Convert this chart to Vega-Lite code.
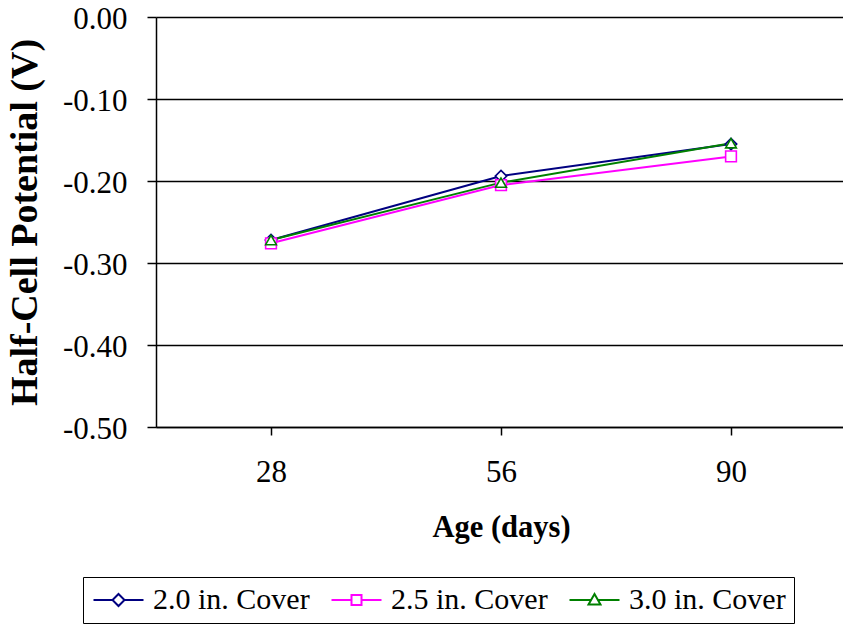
{
  "$schema": "https://vega.github.io/schema/vega-lite/v6.json",
  "width": 690,
  "height": 410,
  "autosize": {"type": "none"},
  "padding": {"left": 156, "top": 17, "right": 0, "bottom": 199},
  "background": "white",
  "data": {
    "values": [
      {"age": "28", "cover": "2.0 in. Cover", "potential": -0.272},
      {"age": "56", "cover": "2.0 in. Cover", "potential": -0.194},
      {"age": "90", "cover": "2.0 in. Cover", "potential": -0.155},
      {"age": "28", "cover": "2.5 in. Cover", "potential": -0.276},
      {"age": "56", "cover": "2.5 in. Cover", "potential": -0.205},
      {"age": "90", "cover": "2.5 in. Cover", "potential": -0.170},
      {"age": "28", "cover": "3.0 in. Cover", "potential": -0.272},
      {"age": "56", "cover": "3.0 in. Cover", "potential": -0.202},
      {"age": "90", "cover": "3.0 in. Cover", "potential": -0.154}
    ]
  },
  "config": {
    "view": {"stroke": null},
    "font": "Liberation Serif",
    "axis": {
      "labelFont": "Liberation Serif",
      "titleFont": "Liberation Serif",
      "labelColor": "black",
      "titleColor": "black",
      "domainColor": "black",
      "tickColor": "black",
      "labelFontSize": 31,
      "titleFontSize": 30.5,
      "titleFontWeight": "bold"
    }
  },
  "encoding": {
    "x": {
      "field": "age",
      "type": "ordinal",
      "sort": ["28", "56", "90"],
      "scale": {"paddingInner": 0, "paddingOuter": 0},
      "axis": {
        "title": "Age (days)",
        "labelAngle": 0,
        "bandPosition": 0,
        "ticks": true,
        "tickSize": 8,
        "tickWidth": 1.5,
        "domainWidth": 1.5,
        "labelPadding": 22,
        "titlePadding": 25
      }
    },
    "y": {
      "field": "potential",
      "type": "quantitative",
      "scale": {"domain": [-0.5, 0], "nice": false, "zero": false},
      "axis": {
        "title": "Half-Cell Potential (V)",
        "titleFontSize": 38,
        "values": [0, -0.1, -0.2, -0.3, -0.4, -0.5],
        "labelExpr": "datum.value === 0 ? '0.00' : '-' + format(-datum.value, '.2f')",
        "grid": true,
        "gridColor": "black",
        "gridWidth": 1.5,
        "gridOpacity": 1,
        "tickSize": 9,
        "tickWidth": 1.5,
        "domainWidth": 1.5,
        "labelPadding": 20,
        "labelOffset": 2,
        "titlePadding": 18
      }
    }
  },
  "layer": [
    {
      "mark": {"type": "line", "strokeWidth": 2},
      "encoding": {
        "color": {
          "field": "cover",
          "type": "nominal",
          "scale": {
            "domain": ["2.0 in. Cover", "2.5 in. Cover", "3.0 in. Cover"],
            "range": ["#000080", "#ff00ff", "#008000"]
          },
          "legend": {
            "title": null,
            "orient": "none",
            "legendX": -73,
            "legendY": 560,
            "direction": "horizontal",
            "strokeColor": "black",
            "padding": 8,
            "labelFont": "Liberation Serif",
            "labelFontSize": 30,
            "labelColor": "black",
            "labelLimit": 400,
            "labelOffset": 32,
            "columnPadding": 17,
            "symbolSize": 625,
            "symbolStrokeWidth": 2,
            "encode": {
              "symbols": {
                "update": {
                  "shape": {
                    "signal": "datum.value === '2.0 in. Cover' ? 'M-1,0H0.52M1.48,0H3M1,-0.48L1.48,0L1,0.48L0.52,0Z' : datum.value === '2.5 in. Cover' ? 'M-1,0H0.6M1.4,0H3M0.6,-0.4H1.4V0.4H0.6Z' : 'M-1,0H0.76M1.24,0H3M1,-0.48L1.48,0.36H0.52Z'"
                  },
                  "fill": {"value": "white"},
                  "strokeWidth": {"value": 2}
                }
              }
            }
          }
        }
      }
    },
    {
      "transform": [{"filter": "datum.cover === '2.0 in. Cover'"}],
      "mark": {"type": "point", "shape": "diamond", "filled": false, "fill": "white", "fillOpacity": 1, "opacity": 1, "stroke": "#000080", "strokeWidth": 1.6, "size": 130}
    },
    {
      "transform": [{"filter": "datum.cover === '2.5 in. Cover'"}],
      "mark": {"type": "point", "shape": "square", "filled": false, "fill": "white", "fillOpacity": 1, "opacity": 1, "stroke": "#ff00ff", "strokeWidth": 1.6, "size": 115}
    },
    {
      "transform": [{"filter": "datum.cover === '3.0 in. Cover'"}],
      "mark": {"type": "point", "shape": "triangle-up", "filled": false, "fill": "white", "fillOpacity": 1, "opacity": 1, "stroke": "#008000", "strokeWidth": 1.6, "size": 115}
    }
  ]
}
